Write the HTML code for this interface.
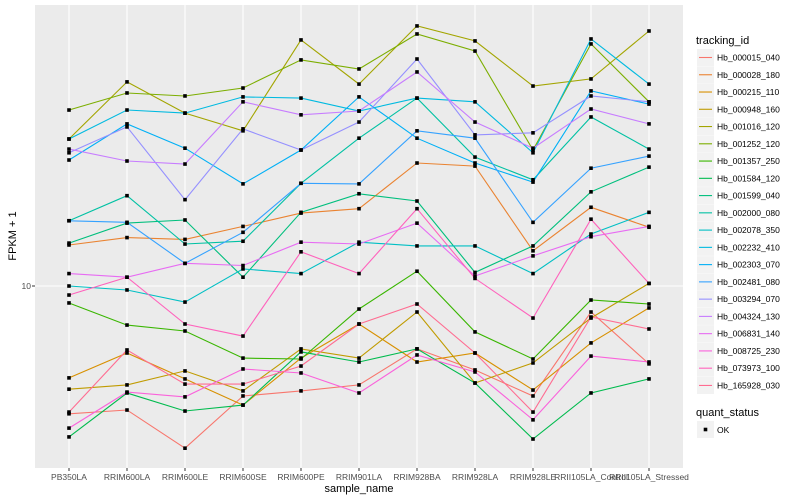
<!DOCTYPE html>
<html><head><meta charset="utf-8">
<style>
body{margin:0;background:#fff;}
svg{display:block;font-family:"Liberation Sans",sans-serif;}
</style></head>
<body>
<svg id="chart" width="800" height="500" viewBox="0 0 800 500" xmlns="http://www.w3.org/2000/svg">
<rect x="0" y="0" width="800" height="500" fill="#fff"/>
<rect x="35" y="5" width="648" height="463" fill="#EBEBEB"/>
<g id="grid"></g>
<g id="series"></g>
<g id="axes"></g>
<g id="legend"></g>
</svg>
<script>
const categories = ["PB350LA","RRIM600LA","RRIM600LE","RRIM600SE","RRIM600PE","RRIM901LA","RRIM928BA","RRIM928LA","RRIM928LE","RRII105LA_Control","RRII105LA_Stressed"];
const seriesNames = ["Hb_000015_040","Hb_000028_180","Hb_000215_110","Hb_000948_160","Hb_001016_120","Hb_001252_120","Hb_001357_250","Hb_001584_120","Hb_001599_040","Hb_002000_080","Hb_002078_350","Hb_002232_410","Hb_002303_070","Hb_002481_080","Hb_003294_070","Hb_004324_130","Hb_006831_140","Hb_008725_230","Hb_073973_100","Hb_165928_030"];
const seriesColors = ["#F8766D","#EA8331","#D89000","#C09B00","#A3A500","#7CAE00","#39B600","#00BB4E","#00BF7D","#00C1A3","#00BFC4","#00BAE0","#00B0F6","#35A2FF","#9590FF","#C77CFF","#E76BF3","#FA62DB","#FF62BC","#FF6C91"];
const s01 = [3.75,3.86,2.88,4.30,4.47,4.68,6.17,5.25,4.30,8.19,5.50];
const s02 = [13.7,14.5,14.3,15.8,17.5,18.1,25.7,25.1,13.1,18.3,15.7];
const s03 = [4.94,5.98,4.90,4.01,5.75,7.47,5.58,5.98,4.50,6.46,8.45];
const s04 = [4.53,4.68,5.21,4.47,6.17,5.75,8.19,4.75,5.54,7.82,10.2];
const s05 = [30.9,47.9,37.7,32.9,66.1,47.1,73.6,65.6,46.4,49.0,70.8];
const s06 = [38.6,44.0,43.0,45.7,56.7,52.9,69.2,60.7,28.4,64.1,41.1];
const s07 = [8.78,7.41,7.08,5.75,5.71,8.38,11.2,7.03,5.71,8.98,8.71];
const s08 = [3.14,4.40,3.83,4.01,6.03,5.58,6.17,4.75,3.09,4.40,4.90];
const s09 = [13.9,16.2,16.6,10.7,17.6,20.3,19.2,11.1,13.6,20.6,24.9];
const s10 = [16.5,20.0,13.8,14.1,22.0,31.1,42.3,26.9,22.6,36.6,28.6];
const s11 = [10.0,9.70,8.84,11.4,11.0,14.0,13.6,13.6,11.0,14.9,17.6];
const s12 = [30.9,38.6,37.7,42.7,42.3,38.3,42.3,41.1,27.8,66.6,47.1];
const s13 = [26.3,34.7,28.8,21.9,28.4,42.7,31.1,25.7,22.2,44.7,40.4];
const s14 = [16.5,16.3,11.9,15.1,22.0,21.9,32.9,31.1,16.3,24.7,27.1];
const s15 = [27.8,33.9,19.4,33.4,28.4,35.2,57.1,31.9,32.4,43.0,41.1];
const s16 = [28.6,26.1,25.5,41.1,37.2,38.3,51.7,35.2,28.8,38.9,34.7];
const s17 = [11.0,10.7,11.9,11.7,14.0,13.8,16.2,10.8,12.6,14.6,15.8];
const s18 = [3.36,4.43,4.27,5.29,5.13,4.40,5.89,5.17,3.58,5.84,5.58];
const s19 = [9.33,10.7,7.47,6.81,13.0,11.0,18.1,10.6,7.82,16.7,10.2];
const s20 = [3.80,6.12,4.71,4.71,5.41,7.47,8.71,5.98,3.80,7.88,7.19];
const seriesValues = [s01,s02,s03,s04,s05,s06,s07,s08,s09,s10,s11,s12,s13,s14,s15,s16,s17,s18,s19,s20];
const yTickValues = [10];
const yTickLabels = ["10"];

const NS = "http://www.w3.org/2000/svg";
const panel = {x0:35, x1:683, y0:5, y1:468};
function xScale(i){ return 69 + i*58; }
function yScale(v){ return 286 - 300*Math.log10(v/10); }
function mk(tag, attrs, parent){
  const e = document.createElementNS(NS, tag);
  for (const k in attrs) e.setAttribute(k, attrs[k]);
  parent.appendChild(e);
  return e;
}
const grid = document.getElementById('grid');
const axes = document.getElementById('axes');
const seriesG = document.getElementById('series');
const legend = document.getElementById('legend');

categories.forEach((c,i)=>{
  const l = mk('line',{x1:xScale(i),x2:xScale(i),y1:panel.y0,y2:panel.y1,stroke:'#fff','stroke-width':1.1},grid);
  
  
  const t = mk('line',{x1:xScale(i),x2:xScale(i),y1:panel.y1,y2:panel.y1+3,stroke:'#333','stroke-width':1},axes);
  
  
  const tx = mk('text',{x:xScale(i),y:480,'text-anchor':'middle','font-size':8.5,fill:'#4D4D4D'},axes);
  tx.textContent = c;
  
  
});
yTickValues.forEach((v,i)=>{
  const y = yScale(v);
  const l = mk('line',{x1:panel.x0,x2:panel.x1,y1:y,y2:y,stroke:'#fff','stroke-width':1.1},grid);
  
  
  const t = mk('line',{x1:panel.x0-3,x2:panel.x0,y1:y,y2:y,stroke:'#333','stroke-width':1},axes);
  
  
  const tx = mk('text',{x:panel.x0-4,y:y+3,'text-anchor':'end','font-size':8.5,fill:'#4D4D4D'},axes);
  tx.textContent = yTickLabels[i];
  
  
});
const xt = mk('text',{x:359,y:492,'text-anchor':'middle','font-size':11,fill:'#000'},axes);
xt.textContent = 'sample_name';


const yt = mk('text',{x:16,y:236,'text-anchor':'middle','font-size':11,fill:'#000',transform:'rotate(-90 16 236)'},axes);
yt.textContent = 'FPKM + 1';



seriesValues.forEach((vals,si)=>{
  const pts = vals.map((v,i)=>xScale(i).toFixed(1)+','+yScale(v).toFixed(1)).join(' ');
  const pl = mk('polyline',{points:pts,fill:'none',stroke:seriesColors[si],'stroke-width':1.1},seriesG);
  
  
});
seriesValues.forEach((vals,si)=>{
  vals.forEach((v,i)=>{
    const p = mk('rect',{x:xScale(i)-1.8,y:yScale(v)-1.8,width:3.6,height:3.6,fill:'#000'},seriesG);
    
    
  });
});

const lt = mk('text',{x:696,y:44,'font-size':11,fill:'#000'},legend);
lt.textContent = 'tracking_id';


seriesNames.forEach((n,i)=>{
  const y = 49 + i*17.26;
  const g = mk('g',{},legend);
  
  
  mk('rect',{x:697,y:y,width:17,height:17,fill:'#F2F2F2'},g);
  mk('line',{x1:699,x2:712,y1:y+8.5,y2:y+8.5,stroke:seriesColors[i],'stroke-width':1.1},g);
  const t = mk('text',{x:717,y:y+11.5,'font-size':8.5,fill:'#000'},g);
  t.textContent = n;
});
const qt = mk('text',{x:696,y:416,'font-size':11,fill:'#000'},legend);
qt.textContent = 'quant_status';


const qg = mk('g',{},legend);


mk('rect',{x:697,y:421,width:17,height:17,fill:'#F2F2F2'},qg);
mk('rect',{x:703.7,y:427.7,width:3.6,height:3.6,fill:'#000'},qg);
const ok = mk('text',{x:717,y:433,'font-size':8.5,fill:'#000'},qg);
ok.textContent = 'OK';
</script>
</body></html>
